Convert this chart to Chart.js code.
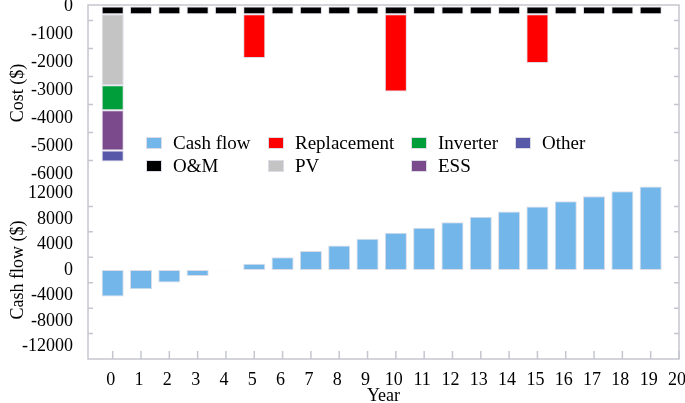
<!DOCTYPE html>
<html>
<head>
<meta charset="utf-8">
<script src="https://cdn.jsdelivr.net/npm/chart.js@4.4.0/dist/chart.umd.min.js"></script>
<style>
  html, body { margin: 0; padding: 0; background: #fff; }
  #wrap { position: relative; width: 685px; height: 403px; }
  #legend { position: absolute; left: 0; top: 0; font-family: "Liberation Serif", "DejaVu Serif", serif; font-size: 19px; color: #000; }
  .item { position: absolute; display: flex; align-items: center; white-space: nowrap; line-height: 22px; }
  .box { width: 16px; height: 12px; margin-right: 11px; box-sizing: border-box; border: 1px solid #dcdce6; }
</style>
</head>
<body>
<div id="wrap">
  <canvas id="chart" width="685" height="403"></canvas>
  <div id="legend"></div>
</div>
<script>
// values
const years = [0, 1, 2, 3, 4, 5, 6, 7, 8, 9, 10, 11, 12, 13, 14, 15, 16, 17, 18, 19];
const xTicks = [0, 1, 2, 3, 4, 5, 6, 7, 8, 9, 10, 11, 12, 13, 14, 15, 16, 17, 18, 19, 20];

const cashFlow = [-4170, -3030, -1980, -940, -40, 1000, 2000, 2980, 3870, 4920,
  5860, 6650, 7530, 8370, 9200, 10000, 10830, 11620, 12400, 13130];

const omCost = [-280, -280, -280, -280, -280, -280, -280, -280, -280, -280,
  -280, -280, -280, -280, -280, -280, -280, -280, -280, -280];
const replacementCost = [0, 0, 0, 0, 0, -1565, 0, 0, 0, 0,
  -2760, 0, 0, 0, 0, -1745, 0, 0, 0, 0];
const pvCost = [-2535, 0, 0, 0, 0, 0, 0, 0, 0, 0, 0, 0, 0, 0, 0, 0, 0, 0, 0, 0];
const inverterCost = [-895, 0, 0, 0, 0, 0, 0, 0, 0, 0, 0, 0, 0, 0, 0, 0, 0, 0, 0, 0];
const essCost = [-1440, 0, 0, 0, 0, 0, 0, 0, 0, 0, 0, 0, 0, 0, 0, 0, 0, 0, 0, 0];
const otherCost = [-390, 0, 0, 0, 0, 0, 0, 0, 0, 0, 0, 0, 0, 0, 0, 0, 0, 0, 0, 0];

const costTicks = [0, -1000, -2000, -3000, -4000, -5000, -6000];
const cashTicks = [12000, 8000, 4000, 0, -4000, -8000, -12000];

const legendOrder = ["Cash flow", "Replacement", "Inverter", "Other", "O&M", "PV", "ESS"];

const axisColor = "#c6c6d0";
const barBorder = "#dcdce6";

Chart.defaults.font.family = "'Liberation Serif', 'DejaVu Serif', serif";
Chart.defaults.font.size = 18;
Chart.defaults.color = "#000";

function costSet(label, data, color) {
  return {
    label: label,
    data: data,
    yAxisID: "yCost",
    stack: "all",
    backgroundColor: color,
    borderColor: barBorder,
    borderWidth: 1,
    borderSkipped: false,
  };
}

// frame round the plot, with short tick marks pointing inwards
const frameTicks = {
  id: "frameTicks",
  afterDraw(chart) {
    const { ctx, chartArea: a, scales } = chart;
    ctx.save();
    ctx.strokeStyle = axisColor;
    ctx.lineWidth = 1.5;
    ctx.strokeRect(a.left, a.top, a.right - a.left, a.bottom - a.top);
    ctx.beginPath();
    ["yCost", "yCash"].forEach((id) => {
      const s = scales[id];
      const t = s.ticks;
      for (let i = 0; i + 1 < t.length; i++) {
        const y = (s.getPixelForValue(t[i].value) + s.getPixelForValue(t[i + 1].value)) / 2;
        ctx.moveTo(a.left, y);
        ctx.lineTo(a.left + 5, y);
        ctx.moveTo(a.right, y);
        ctx.lineTo(a.right - 5, y);
      }
    });
    const sx = scales.x;
    sx.ticks.forEach((t) => {
      const px = sx.getPixelForValue(t.value);
      ctx.moveTo(px, a.bottom);
      ctx.lineTo(px, a.bottom - 8);
    });
    ctx.stroke();
    ctx.restore();
  },
};

const chart = new Chart(document.getElementById("chart"), {
  type: "bar",
  data: {
    labels: years,
    datasets: [
      costSet("O&M", omCost, "#000000"),
      costSet("Replacement", replacementCost, "#ff0000"),
      costSet("PV", pvCost, "#c4c4c4"),
      costSet("Inverter", inverterCost, "#009e3a"),
      costSet("ESS", essCost, "#7b4a8c"),
      costSet("Other", otherCost, "#5858a8"),
      {
        label: "Cash flow",
        data: cashFlow,
        yAxisID: "yCash",
        stack: "all",
        backgroundColor: "#72b6ea",
        borderColor: barBorder,
        borderWidth: 1,
        borderSkipped: false,
      },
    ],
  },
  options: {
    responsive: false,
    animation: false,
    barPercentage: 0.78,
    categoryPercentage: 1,
    layout: { padding: { top: 5, right: 6, bottom: 0, left: 0 } },
    plugins: { legend: { display: false }, tooltip: { enabled: false } },
    scales: {
      x: {
        type: "linear",
        offset: false,
        min: -0.872,
        max: 20,
        afterBuildTicks: (s) => { s.ticks = xTicks.map((v) => ({ value: v })); },
        afterFit: (s) => { s.height = 44; s.paddingLeft = 0; s.paddingRight = 0; },
        grid: { display: false, drawTicks: false },
        border: { display: false },
        ticks: { padding: 10, labelOffset: -2, maxRotation: 0, autoSkip: false, callback: (v) => String(v) },
        title: { display: true, text: "Year", padding: { top: 0, bottom: -4 } },
      },
      // the later axis in a left stack is placed on top
      yCash: {
        type: "linear",
        position: "left",
        stack: "left",
        stackWeight: 178,
        min: -14000,
        max: 14000,
        afterBuildTicks: (s) => { s.ticks = cashTicks.map((v) => ({ value: v })); },
        afterFit: (s) => { s.width = 88; s.paddingTop = 0; s.paddingBottom = 0; },
        grid: { display: false, drawTicks: false },
        border: { display: false },
        ticks: { padding: 15, autoSkip: false, callback: (v) => String(v) },
        title: { display: true, text: "Cash flow ($)", padding: { top: 7, bottom: 0 } },
      },
      yCost: {
        type: "linear",
        position: "left",
        stack: "left",
        stackWeight: 176,
        stacked: true,
        min: -6236,
        max: 50,
        afterBuildTicks: (s) => { s.ticks = costTicks.map((v) => ({ value: v })); },
        afterFit: (s) => { s.width = 88; s.paddingTop = 0; s.paddingBottom = 0; },
        grid: { display: false, drawTicks: false },
        border: { display: false },
        ticks: { padding: 15, autoSkip: false, callback: (v) => String(v) },
        title: { display: true, text: "Cost ($)", padding: { top: 7, bottom: 0 } },
      },
    },
  },
  plugins: [frameTicks],
});

// legend in four columns, two rows, inside the plot
const legendCols = [146, 268, 411, 515];
const legendRows = [132, 155];
const legend = document.getElementById("legend");
legendOrder.forEach((name, i) => {
  const ds = chart.data.datasets.find((d) => d.label === name);
  const item = document.createElement("div");
  item.className = "item";
  item.style.left = legendCols[i % 4] + "px";
  item.style.top = legendRows[Math.floor(i / 4)] + "px";
  item.innerHTML = `<span class="box" style="background:${ds.backgroundColor}"></span><span>${name}</span>`;
  legend.appendChild(item);
});
</script>
</body>
</html>
